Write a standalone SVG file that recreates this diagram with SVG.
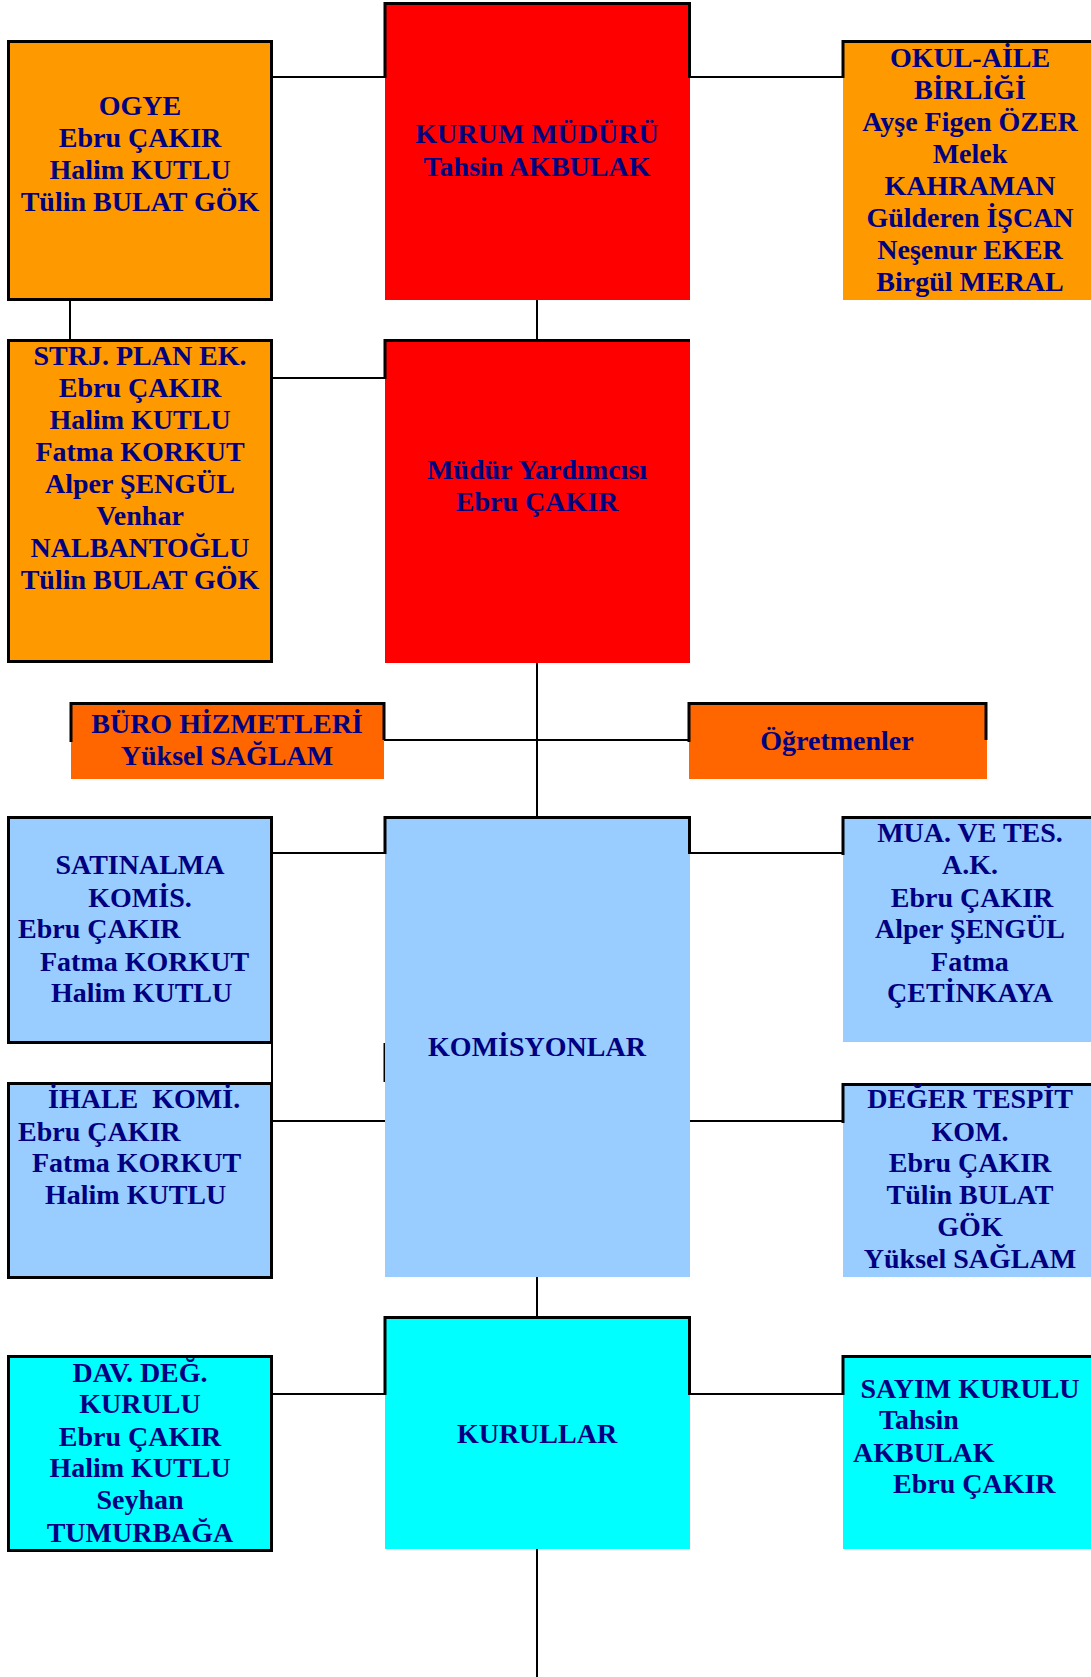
<svg xmlns="http://www.w3.org/2000/svg" width="1091" height="1677" viewBox="0 0 1091 1677">
<style>
.t{font-family:"Liberation Serif","Times New Roman",serif;font-weight:bold;font-size:28px;fill:#000080}
.c{text-anchor:middle}
.b{stroke:#000;stroke-width:3;fill:none}
.bx{stroke:#000;stroke-width:3}
.ln{stroke:#000;stroke-width:2;fill:none}
.or{fill:#FF9900}.rd{fill:#FF0000}.oo{fill:#FF6600}.lb{fill:#99CCFF}.cy{fill:#00FFFF}
</style>
<rect width="1091" height="1677" fill="#fff"/>
<g id="connectors">
<line class="ln" x1="273" y1="77" x2="385" y2="77"/>
<line class="ln" x1="690" y1="77" x2="843" y2="77"/>
<line class="ln" x1="537" y1="300" x2="537" y2="340"/>
<line class="ln" x1="70" y1="301" x2="70" y2="339"/>
<line class="ln" x1="273" y1="378" x2="385" y2="378"/>
<line class="ln" x1="537" y1="663" x2="537" y2="817"/>
<line class="ln" x1="384" y1="740" x2="689" y2="740"/>
<line class="ln" x1="273" y1="853" x2="385" y2="853"/>
<line class="ln" x1="690" y1="853" x2="843" y2="853"/>
<line class="ln" x1="273" y1="1121" x2="385" y2="1121"/>
<line class="ln" x1="690" y1="1121" x2="843" y2="1121"/>
<line class="ln" x1="272" y1="1044" x2="272" y2="1082"/>
<line class="b" x1="385" y1="1043" x2="385" y2="1082"/>
<line class="ln" x1="537" y1="1277" x2="537" y2="1317"/>
<line class="ln" x1="273" y1="1394" x2="385" y2="1394"/>
<line class="ln" x1="690" y1="1394" x2="843" y2="1394"/>
<line class="ln" x1="537" y1="1549" x2="537" y2="1677"/>
</g>
<g id="ogye">
<rect class="or bx" x="8.5" y="41.5" width="263" height="258"/>
<text class="t c" x="140" y="115">OGYE</text>
<text class="t c" x="140" y="147">Ebru ÇAKIR</text>
<text class="t c" x="140" y="179">Halim KUTLU</text>
<text class="t c" x="140" y="211">Tülin BULAT GÖK</text>
</g>
<g id="kurum-muduru">
<rect class="rd" x="385" y="3" width="305" height="297"/>
<path class="b" d="M385,78 V3.5 H689.5 V78"/>
<text class="t c" x="537" y="143">KURUM MÜDÜRÜ</text>
<text class="t c" x="537" y="176">Tahsin AKBULAK</text>
</g>
<g id="okul-aile">
<rect class="or" x="843" y="41" width="250" height="259"/>
<path class="b" d="M843,78 V41.5 H1095"/>
<text class="t c" x="970" y="67">OKUL-AİLE</text>
<text class="t c" x="970" y="99">BİRLİĞİ</text>
<text class="t c" x="970" y="131">Ayşe Figen ÖZER</text>
<text class="t c" x="970" y="163">Melek</text>
<text class="t c" x="970" y="195">KAHRAMAN</text>
<text class="t c" x="970" y="227">Gülderen İŞCAN</text>
<text class="t c" x="970" y="259">Neşenur EKER</text>
<text class="t c" x="970" y="291">Birgül MERAL</text>
</g>
<g id="strj-plan">
<rect class="or bx" x="8.5" y="340.5" width="263" height="321"/>
<text class="t c" x="140" y="365">STRJ. PLAN EK.</text>
<text class="t c" x="140" y="397">Ebru ÇAKIR</text>
<text class="t c" x="140" y="429">Halim KUTLU</text>
<text class="t c" x="140" y="461">Fatma KORKUT</text>
<text class="t c" x="140" y="493">Alper ŞENGÜL</text>
<text class="t c" x="140" y="525">Venhar</text>
<text class="t c" x="140" y="557">NALBANTOĞLU</text>
<text class="t c" x="140" y="589">Tülin BULAT GÖK</text>
</g>
<g id="mudur-yardimcisi">
<rect class="rd" x="385" y="340" width="305" height="323"/>
<path class="b" d="M385,379 V340.5 H690"/>
<text class="t c" x="537" y="479">Müdür Yardımcısı</text>
<text class="t c" x="537" y="511">Ebru ÇAKIR</text>
</g>
<g id="buro">
<rect class="oo" x="71" y="703" width="313" height="76"/>
<path class="b" d="M71,742 V703.5 H384 V740"/>
<text class="t c" x="227" y="733">BÜRO HİZMETLERİ</text>
<text class="t c" x="227" y="765">Yüksel SAĞLAM</text>
</g>
<g id="ogretmenler">
<rect class="oo" x="689" y="703" width="298" height="76"/>
<path class="b" d="M689,742 V703.5 H986 V740"/>
<text class="t c" x="837" y="750">Öğretmenler</text>
</g>
<g id="satinalma">
<rect class="lb bx" x="8.5" y="817.5" width="263" height="225"/>
<text class="t c" x="140" y="874">SATINALMA</text>
<text class="t c" x="140" y="907">KOMİS.</text>
<text class="t" x="18" y="938">Ebru ÇAKIR</text>
<text class="t" x="40" y="971">Fatma KORKUT</text>
<text class="t" x="51" y="1002">Halim KUTLU</text>
</g>
<g id="komisyonlar">
<rect class="lb" x="385" y="817" width="305" height="460"/>
<path class="b" d="M385,854 V817.5 H689.5 V854"/>
<text class="t c" x="537" y="1056">KOMİSYONLAR</text>
</g>
<g id="mua">
<rect class="lb" x="843" y="817" width="250" height="225"/>
<path class="b" d="M843,855 V817.5 H1095"/>
<text class="t c" x="970" y="842">MUA. VE TES.</text>
<text class="t c" x="970" y="874">A.K.</text>
<text class="t c" x="972" y="907">Ebru ÇAKIR</text>
<text class="t c" x="970" y="938">Alper ŞENGÜL</text>
<text class="t c" x="970" y="971">Fatma</text>
<text class="t c" x="970" y="1002">ÇETİNKAYA</text>
</g>
<g id="ihale">
<rect class="lb bx" x="8.5" y="1083.5" width="263" height="194"/>
<text class="t" x="48" y="1108" xml:space="preserve">İHALE  KOMİ.</text>
<text class="t" x="18" y="1141">Ebru ÇAKIR</text>
<text class="t" x="32" y="1172">Fatma KORKUT</text>
<text class="t" x="45" y="1204">Halim KUTLU</text>
</g>
<g id="deger-tespit">
<rect class="lb" x="843" y="1084" width="250" height="193"/>
<path class="b" d="M843,1123 V1084.5 H1095"/>
<text class="t c" x="970" y="1108">DEĞER TESPİT</text>
<text class="t c" x="970" y="1141">KOM.</text>
<text class="t c" x="970" y="1172">Ebru ÇAKIR</text>
<text class="t c" x="970" y="1204">Tülin BULAT</text>
<text class="t c" x="970" y="1236">GÖK</text>
<text class="t c" x="970" y="1268">Yüksel SAĞLAM</text>
</g>
<g id="kurullar">
<rect class="cy" x="385" y="1317" width="305" height="232"/>
<path class="b" d="M385,1395 V1317.5 H689.5 V1395"/>
<text class="t c" x="537" y="1443">KURULLAR</text>
</g>
<g id="dav-deg">
<rect class="cy bx" x="8.5" y="1356.5" width="263" height="194"/>
<text class="t c" x="140" y="1382">DAV. DEĞ.</text>
<text class="t c" x="140" y="1413">KURULU</text>
<text class="t c" x="140" y="1446">Ebru ÇAKIR</text>
<text class="t c" x="140" y="1477">Halim KUTLU</text>
<text class="t c" x="140" y="1509">Seyhan</text>
<text class="t c" x="140" y="1542">TUMURBAĞA</text>
</g>
<g id="sayim">
<rect class="cy" x="843" y="1356" width="250" height="193"/>
<path class="b" d="M843,1395 V1356.5 H1095"/>
<text class="t c" x="970" y="1398">SAYIM KURULU</text>
<text class="t" x="879" y="1429">Tahsin</text>
<text class="t" x="853" y="1462">AKBULAK</text>
<text class="t" x="893" y="1493">Ebru ÇAKIR</text>
</g>
</svg>
